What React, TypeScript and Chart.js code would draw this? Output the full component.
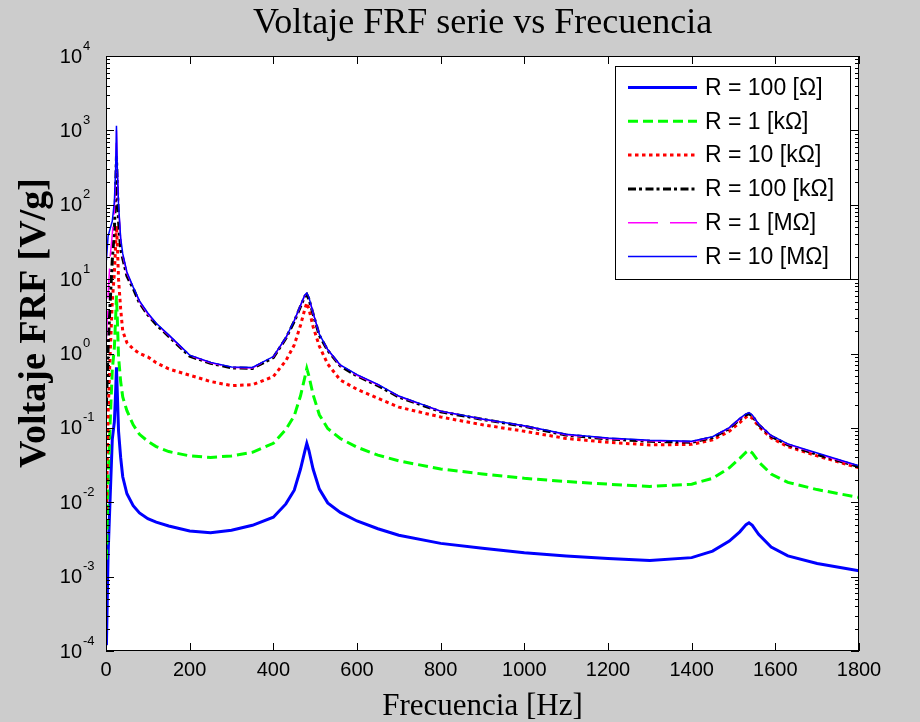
import React, { useEffect, useRef } from 'react';
import { Chart, registerables } from 'chart.js';

Chart.register(...registerables);

// Frequency samples [Hz]
const FREQ = [1, 5, 10, 15, 20, 23, 25, 27, 30, 35,
  40, 50, 65, 80, 100, 120, 150, 200, 250, 300,
  350, 400, 430, 450, 465, 475, 480, 485, 495, 510,
  530, 560, 600, 650, 700, 800, 900, 1000, 1100, 1200,
  1300, 1400, 1450, 1490, 1515, 1530, 1537, 1545, 1560, 1590,
  1630, 1700, 1800];

// Voltage FRF [V/g] for each load resistance
const R_100 = [0.00012, 0.002, 0.012, 0.07, 0.12, 0.3, 0.65, 0.3, 0.09, 0.04,
  0.022, 0.013, 0.009, 0.0072, 0.006, 0.0054, 0.0048, 0.0041, 0.0039, 0.0042,
  0.0049, 0.0063, 0.0095, 0.0145, 0.028, 0.048, 0.062, 0.05, 0.028, 0.015,
  0.0098, 0.0073, 0.0056, 0.0044, 0.0036, 0.0028, 0.0024, 0.0021, 0.0019, 0.00175,
  0.00165, 0.0018, 0.0022, 0.003, 0.004, 0.005, 0.0053, 0.0049, 0.0037, 0.0025,
  0.0019, 0.0015, 0.0012];

const R_1K = [0.0017, 0.02, 0.12, 0.6, 1.2, 3, 6, 3, 0.9, 0.42,
  0.26, 0.17, 0.11, 0.082, 0.066, 0.056, 0.048, 0.042, 0.04, 0.042,
  0.047, 0.062, 0.095, 0.145, 0.27, 0.47, 0.63, 0.5, 0.28, 0.15,
  0.098, 0.072, 0.055, 0.043, 0.036, 0.028, 0.024, 0.021, 0.019, 0.0175,
  0.0163, 0.0175, 0.021, 0.029, 0.039, 0.047, 0.05, 0.046, 0.035, 0.024,
  0.0185, 0.0148, 0.0116];

const R_10K = [0.008, 0.15, 1.0, 5, 12, 28, 52, 30, 10, 4,
  2.0, 1.4, 1.15, 1.0, 0.9, 0.75, 0.62, 0.51, 0.42, 0.37,
  0.38, 0.49, 0.8, 1.3, 2.4, 3.9, 4.8, 4.0, 2.3, 1.25,
  0.72, 0.44, 0.33, 0.25, 0.19, 0.14, 0.11, 0.09, 0.072, 0.064,
  0.059, 0.06, 0.069, 0.09, 0.118, 0.14, 0.145, 0.135, 0.105, 0.073,
  0.056, 0.042, 0.029];

const R_100K = [0.2, 1.2, 5, 18, 45, 150, 450, 180, 60, 25,
  19, 11, 7.5, 4.8, 3.3, 2.45, 1.7, 0.92, 0.74, 0.64,
  0.63, 0.88, 1.6, 2.7, 4.3, 5.8, 6.2, 5.4, 3.4, 1.75,
  1.1, 0.68, 0.5, 0.37, 0.26, 0.165, 0.13, 0.105, 0.08, 0.071,
  0.066, 0.064, 0.074, 0.098, 0.13, 0.15, 0.155, 0.145, 0.11, 0.077,
  0.059, 0.044, 0.03];

const R_1M = [1.5, 6, 20, 40, 80, 250, 1000, 300, 95, 35,
  21, 12, 7.7, 5, 3.4, 2.5, 1.75, 0.94, 0.75, 0.65,
  0.64, 0.9, 1.62, 2.75, 4.4, 6, 6.4, 5.6, 3.5, 1.8,
  1.12, 0.69, 0.51, 0.38, 0.265, 0.167, 0.131, 0.106, 0.081, 0.072,
  0.067, 0.065, 0.075, 0.1, 0.132, 0.152, 0.157, 0.147, 0.112, 0.078,
  0.06, 0.045, 0.0305];

const R_10M = [18, 38, 48, 60, 110, 300, 1150, 320, 100, 36,
  22, 12.5, 7.8, 5.1, 3.5, 2.55, 1.78, 0.95, 0.76, 0.66,
  0.65, 0.91, 1.64, 2.78, 4.45, 6.1, 6.5, 5.7, 3.55, 1.82,
  1.13, 0.7, 0.52, 0.385, 0.268, 0.168, 0.132, 0.107, 0.082, 0.073,
  0.068, 0.066, 0.076, 0.101, 0.134, 0.154, 0.16, 0.149, 0.113, 0.079,
  0.061, 0.046, 0.031];

const SERIES_LABELS = ['R = 100 [Ω]', 'R = 1 [kΩ]', 'R = 10 [kΩ]', 'R = 100 [kΩ]', 'R = 1 [MΩ]', 'R = 10 [MΩ]'];
const SERIES_VALUES = [R_100, R_1K, R_10K, R_100K, R_1M, R_10M];

const X_TICKS = [0, 200, 400, 600, 800, 1000, 1200, 1400, 1600, 1800];
const Y_EXPONENTS = [-4, -3, -2, -1, 0, 1, 2, 3, 4];

const TITLE = 'Voltaje FRF serie vs Frecuencia';
const X_LABEL = 'Frecuencia [Hz]';
const Y_LABEL = 'Voltaje FRF [V/g]';

const STYLES = [
  { color: '#0000FF', width: 3, dash: [] as number[] },
  { color: '#00FF00', width: 3, dash: [10, 5] },
  { color: '#FF0000', width: 3, dash: [3.5, 3.5] },
  { color: '#000000', width: 3, dash: [8, 3, 3, 3.5] },
  { color: '#FF00FF', width: 1.5, dash: [30, 12] },
  { color: '#0000FF', width: 1.5, dash: [] as number[] },
];

const SANS = '"Liberation Sans", Arial, sans-serif';
const SERIF = '"Liberation Serif", "Times New Roman", serif';

const framePlugin = {
  id: 'matlabFrame',
  beforeDraw(chart: any) {
    const { ctx, chartArea: a } = chart;
    ctx.save();
    ctx.fillStyle = '#CCCCCC';
    ctx.fillRect(0, 0, chart.width, chart.height);
    ctx.fillStyle = '#FFFFFF';
    ctx.fillRect(a.left, a.top, a.right - a.left, a.bottom - a.top);
    ctx.restore();
  },
  afterDraw(chart: any) {
    const { ctx, chartArea: a } = chart;
    const xs = chart.scales.x;
    const ys = chart.scales.y;
    ctx.save();
    ctx.strokeStyle = '#000';
    ctx.lineWidth = 1;
    ctx.setLineDash([]);
    ctx.strokeRect(Math.round(a.left) + 0.5, Math.round(a.top) + 0.5, Math.round(a.right - a.left) - 1, Math.round(a.bottom - a.top) - 1);

    // x ticks
    ctx.beginPath();
    X_TICKS.forEach((v) => {
      const px = Math.round(xs.getPixelForValue(v)) + 0.5;
      ctx.moveTo(px, a.bottom); ctx.lineTo(px, a.bottom - 8);
      ctx.moveTo(px, a.top); ctx.lineTo(px, a.top + 8);
    });
    // y ticks
    Y_EXPONENTS.forEach((e) => {
      const py = Math.round(ys.getPixelForValue(Math.pow(10, e))) + 0.5;
      ctx.moveTo(a.left, py); ctx.lineTo(a.left + 8, py);
      ctx.moveTo(a.right, py); ctx.lineTo(a.right - 8, py);
      if (e < 4) {
        for (let m = 2; m <= 9; m++) {
          const pm = Math.round(ys.getPixelForValue(m * Math.pow(10, e))) + 0.5;
          ctx.moveTo(a.left, pm); ctx.lineTo(a.left + 4, pm);
          ctx.moveTo(a.right, pm); ctx.lineTo(a.right - 4, pm);
        }
      }
    });
    ctx.stroke();

    ctx.fillStyle = '#000';
    // x tick labels
    ctx.font = `20px ${SANS}`;
    ctx.textAlign = 'center';
    ctx.textBaseline = 'middle';
    X_TICKS.forEach((v) => {
      ctx.fillText(String(v), xs.getPixelForValue(v), 670);
    });
    // y tick labels
    Y_EXPONENTS.forEach((e) => {
      const py = ys.getPixelForValue(Math.pow(10, e));
      ctx.font = `20px ${SANS}`;
      ctx.textAlign = 'right';
      ctx.textBaseline = 'middle';
      ctx.fillText('10', 82, py + 1);
      ctx.font = `13px ${SANS}`;
      ctx.textAlign = 'left';
      ctx.fillText(String(e), 83, py - 10);
    });

    // title
    ctx.font = `36px ${SERIF}`;
    ctx.textAlign = 'center';
    ctx.textBaseline = 'alphabetic';
    ctx.fillText(TITLE, (a.left + a.right) / 2, 33);
    // x label
    ctx.font = `31px ${SERIF}`;
    ctx.fillText(X_LABEL, (a.left + a.right) / 2, 715);
    // y label
    ctx.save();
    ctx.translate(45, 323);
    ctx.rotate(-Math.PI / 2);
    ctx.font = `bold 38px ${SERIF}`;
    ctx.textAlign = 'center';
    ctx.textBaseline = 'alphabetic';
    ctx.fillText(Y_LABEL, 0, 0);
    ctx.restore();

    // legend
    const lx = 615, ly = 66, lw = 235, lh = 213;
    ctx.fillStyle = '#FFFFFF';
    ctx.fillRect(lx, ly, lw, lh);
    ctx.strokeStyle = '#000';
    ctx.lineWidth = 1;
    ctx.strokeRect(lx + 0.5, ly + 0.5, lw, lh);
    SERIES_LABELS.forEach((lab, i) => {
      const y = 87.5 + i * 33.8;
      const st = STYLES[i];
      ctx.save();
      ctx.strokeStyle = st.color;
      ctx.lineWidth = st.width;
      ctx.setLineDash(st.dash);
      ctx.beginPath();
      ctx.moveTo(628, y);
      ctx.lineTo(697, y);
      ctx.stroke();
      ctx.restore();
      ctx.fillStyle = '#000';
      ctx.font = `23px ${SANS}`;
      ctx.textAlign = 'left';
      ctx.textBaseline = 'middle';
      ctx.fillText(lab, 705, y + 1);
    });
    ctx.restore();
  },
};

export default function App() {
  const ref = useRef<HTMLCanvasElement | null>(null);
  useEffect(() => {
    document.body.style.margin = '0';
    const canvas = ref.current;
    if (!canvas) return;
    const datasets = SERIES_VALUES.map((vals, i) => ({
      label: SERIES_LABELS[i],
      data: FREQ.map((f, j) => ({ x: f, y: vals[j] })),
      borderColor: STYLES[i].color,
      backgroundColor: STYLES[i].color,
      borderWidth: STYLES[i].width,
      borderDash: STYLES[i].dash,
      pointRadius: 0,
      tension: 0,
      fill: false,
      order: 5 - i,
    }));
    const chart = new Chart(canvas, {
      type: 'line',
      data: { datasets },
      options: {
        animation: false,
        responsive: false,
        devicePixelRatio: 1,
        layout: { padding: { top: 56, right: 61, left: 0, bottom: 0 } },
        plugins: { legend: { display: false }, title: { display: false }, tooltip: { enabled: false } },
        scales: {
          x: {
            type: 'linear', min: 0, max: 1800,
            ticks: { display: false }, grid: { display: false }, border: { display: false },
            afterFit: (s: any) => { s.height = 71; },
          },
          y: {
            type: 'logarithmic', min: 1e-4, max: 1e4,
            ticks: { display: false }, grid: { display: false }, border: { display: false },
            afterFit: (s: any) => { s.width = 106; },
          },
        },
      },
      plugins: [framePlugin],
    } as any);
    return () => chart.destroy();
  }, []);
  return (
    <div style={{ width: 920, height: 722 }}>
      <canvas ref={ref} width={920} height={722} style={{ display: 'block' }} />
    </div>
  );
}
